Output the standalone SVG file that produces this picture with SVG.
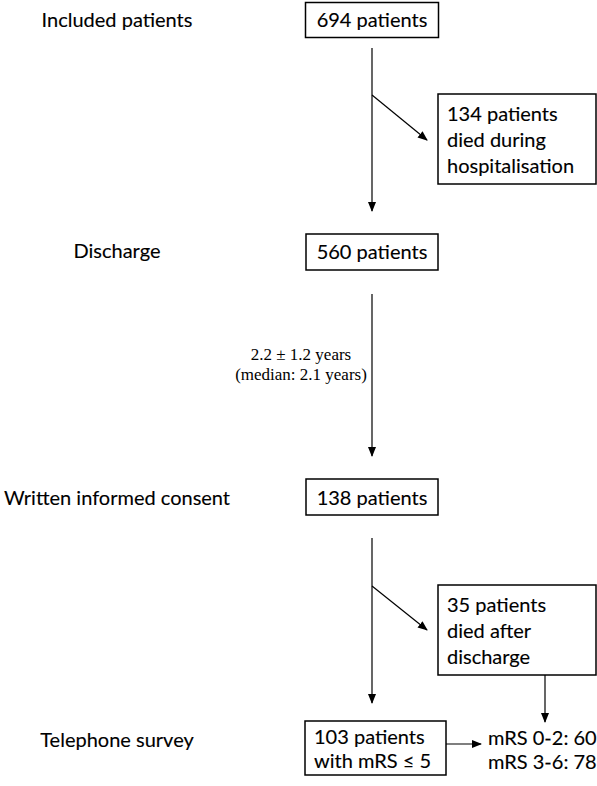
<svg xmlns="http://www.w3.org/2000/svg" width="597" height="786" viewBox="0 0 597 786">
<style>
.t{font-family:Lato,"Open Sans","Liberation Sans",sans-serif;font-size:20px;fill:#000;stroke:#000;stroke-width:0.12}
.m{font-family:"Liberation Serif","Times New Roman",serif;font-size:17px;fill:#000}
.b{fill:#fff;stroke:#000;stroke-width:1.5}
.c{stroke:#000;stroke-width:1.2;fill:none;marker-end:url(#ah)}
</style>
<defs>
<marker id="ah" markerWidth="10" markerHeight="10" refX="9" refY="5" orient="auto" markerUnits="userSpaceOnUse" viewBox="0 0 10 10">
<path d="M0,1 L10,5 L0,9 Z" fill="#000"/>
</marker>
</defs>
<g id="labels">
<text class="t" x="117" y="27" text-anchor="middle">Included patients</text>
<text class="t" x="117" y="258" text-anchor="middle">Discharge</text>
<text class="t" x="117" y="505" text-anchor="middle">Written informed consent</text>
<text class="t" x="117" y="747" text-anchor="middle">Telephone survey</text>
</g>
<g id="n694"><rect class="b" x="305.5" y="2.5" width="133" height="35"/><text class="t" x="372" y="27" text-anchor="middle">694 patients</text></g>
<g id="n134"><rect class="b" x="438" y="94" width="158" height="90"/><text class="t" x="447" y="121">134 patients</text><text class="t" x="447" y="147">died during</text><text class="t" x="447" y="173">hospitalisation</text></g>
<g id="n560"><rect class="b" x="306" y="234" width="132" height="36"/><text class="t" x="372" y="259" text-anchor="middle">560 patients</text></g>
<g id="n138"><rect class="b" x="306" y="479" width="132" height="36"/><text class="t" x="372" y="505" text-anchor="middle">138 patients</text></g>
<g id="n35"><rect class="b" x="438" y="585" width="158" height="90"/><text class="t" x="447" y="612">35 patients</text><text class="t" x="447" y="638">died after</text><text class="t" x="447" y="664">discharge</text></g>
<g id="n103"><rect class="b" x="305" y="721" width="141" height="54"/><text class="t" x="314" y="744">103 patients</text><text class="t" x="314" y="768">with mRS ≤ 5</text></g>
<g id="nmrs"><text class="t" x="488" y="745">mRS 0-2: 60</text><text class="t" x="488" y="769">mRS 3-6: 78</text></g>
<g id="connectors">
<line class="c" x1="372" y1="48" x2="372" y2="211"/>
<line class="c" x1="372" y1="95" x2="427" y2="140"/>
<line class="c" x1="372" y1="294" x2="372" y2="456"/>
<line class="c" x1="372" y1="538" x2="372" y2="703"/>
<line class="c" x1="372" y1="586" x2="427" y2="630"/>
<line class="c" x1="545" y1="675" x2="545" y2="722"/>
<line class="c" x1="446" y1="744" x2="481" y2="744"/>
<text class="m" x="301" y="360" text-anchor="middle">2.2 ± 1.2 years</text>
<text class="m" x="301" y="380" text-anchor="middle">(median: 2.1 years)</text>
</g>
</svg>
